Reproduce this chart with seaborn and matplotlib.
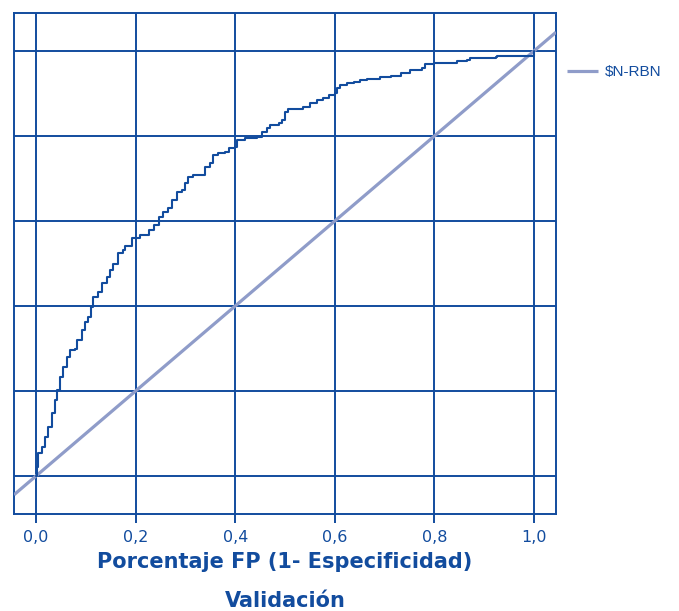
import matplotlib
matplotlib.use("Agg")
import matplotlib.pyplot as plt
import seaborn as sns
import pandas as pd

# ROC curve for the validation sample (false positive rate vs. true positive rate)
fpr = [0.0, 0.0014, 0.0046, 0.0115, 0.018, 0.0247, 0.0316, 0.038, 0.0428, 0.048,
       0.0549, 0.0617, 0.0683, 0.0784, 0.0818, 0.0919, 0.0985, 0.105, 0.110, 0.115,
       0.125, 0.132, 0.142, 0.149, 0.155, 0.165, 0.175, 0.179, 0.192, 0.209,
       0.226, 0.236, 0.246, 0.256, 0.266, 0.273, 0.283, 0.293, 0.299, 0.306,
       0.316, 0.330, 0.340, 0.350, 0.356, 0.366, 0.380, 0.387, 0.400, 0.403,
       0.420, 0.444, 0.454, 0.464, 0.470, 0.487, 0.494, 0.500, 0.507, 0.537,
       0.551, 0.564, 0.577, 0.588, 0.601, 0.604, 0.611, 0.625, 0.638, 0.651,
       0.665, 0.691, 0.712, 0.732, 0.752, 0.775, 0.782, 0.799, 0.839, 0.846,
       0.866, 0.872, 0.923, 0.926, 0.993, 1.0]
tpr = [0.0, 0.022, 0.053, 0.069, 0.092, 0.116, 0.148, 0.179, 0.202, 0.234,
       0.257, 0.281, 0.296, 0.300, 0.320, 0.344, 0.363, 0.375, 0.398, 0.422,
       0.434, 0.453, 0.469, 0.485, 0.500, 0.524, 0.532, 0.540, 0.559, 0.567,
       0.579, 0.591, 0.609, 0.622, 0.630, 0.649, 0.669, 0.673, 0.689, 0.704,
       0.708, 0.708, 0.728, 0.736, 0.755, 0.759, 0.763, 0.771, 0.775, 0.791,
       0.795, 0.798, 0.810, 0.818, 0.826, 0.830, 0.838, 0.857, 0.863, 0.868,
       0.877, 0.885, 0.889, 0.896, 0.900, 0.912, 0.920, 0.924, 0.927, 0.931,
       0.935, 0.939, 0.941, 0.948, 0.955, 0.959, 0.969, 0.971, 0.972, 0.977,
       0.979, 0.983, 0.985, 0.988, 0.989, 1.0]

ticks = [0.0, 0.2, 0.4, 0.6, 0.8, 1.0]
tick_labels = ["0,0", "0,2", "0,4", "0,6", "0,8", "1,0"]
series_name = "\\$N-RBN"
x_title = "Porcentaje FP (1- Especificidad)"
subtitle = "Validación"

navy = "#124c9e"
lavender = "#8f9cc9"

sns.set_theme(style="white")
plt.rcParams["font.family"] = ["Liberation Sans", "DejaVu Sans"]

fig = plt.figure(figsize=(6.79, 6.11), dpi=100)
ax = fig.add_axes([14 / 679, 1 - 514 / 611, 542 / 679, 501 / 611])

roc = pd.DataFrame({"fpr": fpr, "tpr": tpr})

# chance diagonal across the whole plotting area
ax.axline((0, 0), (1, 1), color=lavender, lw=2.3, zorder=3, label=series_name,
          solid_capstyle="butt")

sns.lineplot(data=roc, x="fpr", y="tpr", ax=ax, color=navy, lw=1.5,
             drawstyle="steps-post", estimator=None, sort=False, zorder=4)

ax.set_xlim(-0.0442, 1.0442)
ax.set_ylim(-0.0894, 1.0894)

ax.set_xticks(ticks)
ax.set_xticklabels(tick_labels, family="DejaVu Sans")
ax.set_yticks(ticks)
ax.set_yticklabels([])
ax.grid(True, color=navy, lw=1.4, zorder=1)
ax.set_axisbelow(True)

ax.tick_params(axis="x", length=6.5, width=1.4, color=navy, labelcolor=navy,
               labelsize=11.5, pad=5, bottom=True, direction="out")
ax.tick_params(axis="y", length=0, left=False)

for sp in ax.spines.values():
    sp.set_color(navy)
    sp.set_linewidth(1.4)

ax.set_xlabel(x_title, fontsize=15, fontweight="bold", color=navy, labelpad=5,
              family="DejaVu Sans")
ax.set_ylabel("")
fig.text(285 / 679, 1 - 601 / 611, subtitle, fontsize=15, fontweight="bold",
         color=navy, ha="center", va="center", family="DejaVu Sans")

leg = ax.legend(loc="center left", bbox_to_anchor=(567 / 679, 1 - 72 / 611),
                bbox_transform=fig.transFigure, frameon=False, fontsize=11,
                handlelength=2.0, handletextpad=0.45, borderpad=0,
                borderaxespad=0)
for t in leg.get_texts():
    t.set_color(navy)

fig.savefig("out.png", dpi=100)
